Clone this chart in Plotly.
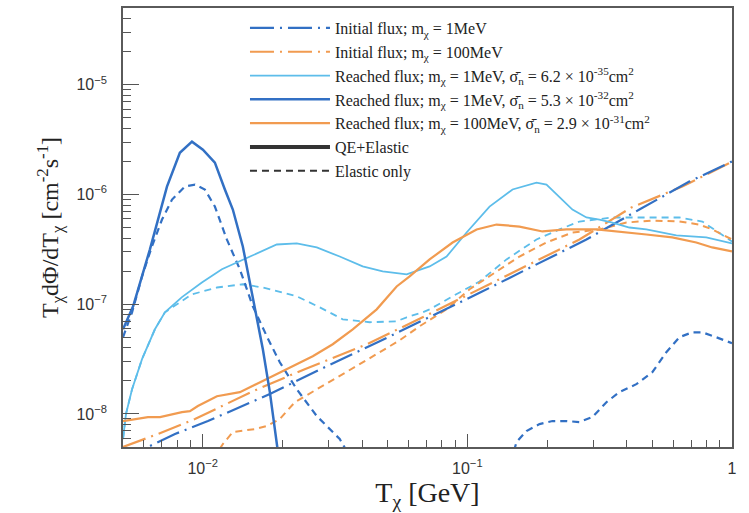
import plotly.graph_objects as go

# Kinetic energy T_chi [GeV] and flux T dPhi/dT [cm^-2 s^-1] for each curve

# Initial flux, m_chi = 1 MeV
init_1mev_T = [0.005, 0.00786, 0.01047, 0.01794, 0.02943, 0.04665, 0.1142, 0.1825, 0.2818, 0.4467, 0.6899, 1.0]
init_1mev_F = [3.9e-9, 6.57e-9, 8.62e-9, 1.52e-8, 2.72e-8, 4.60e-8, 1.31e-7, 2.30e-7, 3.89e-7, 7.29e-7, 1.31e-6, 2.0e-6]

# Initial flux, m_chi = 100 MeV
init_100mev_T = [0.005, 0.00678, 0.00935, 0.01547, 0.0243, 0.04094, 0.06778, 0.102, 0.1574, 0.2652, 0.4167, 0.6492, 0.9267, 1.0]
init_100mev_F = [5.0e-9, 6.57e-9, 8.98e-9, 1.61e-8, 2.56e-8, 4.23e-8, 7.60e-8, 1.23e-7, 2.08e-7, 3.89e-7, 7.60e-7, 1.18e-6, 1.83e-6, 1.99e-6]

# Reached flux, m_chi = 1 MeV, sigma = 6.2e-35 cm^2 (QE+Elastic)
reach_a_T = [0.005, 0.00513, 0.00541, 0.0059, 0.0066, 0.0072, 0.00835, 0.00993, 0.01182, 0.01508, 0.01905,
             0.02267, 0.02698, 0.03295, 0.04023, 0.04788, 0.05898, 0.07203, 0.08348, 0.09934, 0.1213, 0.1482,
             0.1825, 0.1991, 0.2228, 0.2495, 0.2818, 0.3155, 0.3532, 0.4095, 0.4747, 0.6161, 0.7994, 1.0]
reach_a_F = [5.91e-9, 9.98e-9, 1.68e-8, 3.16e-8, 5.91e-8, 8.44e-8, 1.16e-7, 1.58e-7, 2.08e-7, 2.72e-7, 3.50e-7,
             3.58e-7, 3.29e-7, 2.72e-7, 2.21e-7, 1.99e-7, 1.87e-7, 2.21e-7, 2.72e-7, 4.50e-7, 7.76e-7, 1.11e-6,
             1.28e-6, 1.23e-6, 9.57e-7, 7.29e-7, 6.17e-7, 5.91e-7, 5.55e-7, 5.00e-7, 4.80e-7, 4.23e-7, 4.06e-7, 3.58e-7]

# Same, elastic only
reach_a_el_T = [0.005, 0.00513, 0.00541, 0.0059, 0.0066, 0.0072, 0.00911, 0.01132, 0.01418, 0.01688, 0.02267,
                0.02769, 0.03382, 0.04276, 0.05406, 0.05898, 0.06778, 0.07203, 0.08796, 0.1112, 0.1406, 0.1825,
                0.2228, 0.2652, 0.3532, 0.4747, 0.6324, 0.7722, 1.0]
reach_a_el_F = [5.91e-9, 9.98e-9, 1.68e-8, 3.16e-8, 5.91e-8, 8.44e-8, 1.23e-7, 1.42e-7, 1.52e-7, 1.42e-7, 1.18e-7,
                9.37e-8, 7.29e-8, 6.85e-8, 6.99e-8, 7.60e-8, 8.44e-8, 8.98e-8, 1.18e-7, 1.61e-7, 2.56e-7, 3.89e-7,
                4.80e-7, 5.67e-7, 6.17e-7, 6.17e-7, 6.17e-7, 5.67e-7, 3.73e-7]

# Reached flux, m_chi = 1 MeV, sigma = 5.3e-32 cm^2 (QE+Elastic)
reach_b_T = [0.005, 0.00546, 0.00632, 0.00733, 0.0082, 0.00911, 0.01002, 0.01112, 0.01213, 0.013, 0.01418,
             0.01547, 0.01688, 0.01794, 0.01874, 0.0193]
reach_b_F = [5.91e-8, 9.57e-8, 3.16e-7, 1.18e-6, 2.40e-6, 3.03e-6, 2.56e-6, 1.95e-6, 1.11e-6, 7.29e-7, 3.36e-7,
             1.18e-7, 3.89e-8, 1.58e-8, 6.85e-9, 4.3e-9]

# Same, elastic only (drops below the axis between ~0.035 and ~0.15 GeV)
reach_b_el_T = [0.005, 0.00541, 0.0059, 0.00643, 0.00702, 0.00766, 0.00857, 0.00935, 0.01019, 0.01112, 0.01234,
                0.01382, 0.01547, 0.01747, 0.01956, 0.02267, 0.02698, 0.03295, 0.035, None,
                0.150, 0.1534, 0.1673, 0.1873, 0.2098, 0.2368, 0.2652, 0.2969, 0.3353, 0.3753, 0.4351, 0.5,
                0.5647, 0.6324, 0.7079, 0.7722, 0.872, 1.0]
reach_b_el_F = [5.0e-8, 8.44e-8, 1.79e-7, 3.36e-7, 5.91e-7, 8.98e-7, 1.18e-6, 1.23e-6, 1.11e-6, 7.76e-7, 3.89e-7,
                2.08e-7, 9.57e-8, 5.10e-8, 2.96e-8, 1.68e-8, 9.57e-9, 5.91e-9, 4.6e-9, None,
                4.6e-9, 5.55e-9, 6.99e-9, 8.09e-9, 8.62e-9, 8.62e-9, 8.44e-9, 9.37e-9, 1.28e-8, 1.58e-8, 1.87e-8, 2.40e-8,
                3.65e-8, 5.0e-8, 5.55e-8, 5.55e-8, 5.0e-8, 4.41e-8]

# Reached flux, m_chi = 100 MeV, sigma = 2.9e-31 cm^2 (QE+Elastic)
reach_c_T = [0.005, 0.00621, 0.0069, 0.00835, 0.00895, 0.00959, 0.01132, 0.01382, 0.01747, 0.0219, 0.02606,
             0.03101, 0.0369, 0.04545, 0.05406, 0.06053, 0.07203, 0.08796, 0.1084, 0.1289, 0.1574, 0.1923,
             0.2368, 0.3074, 0.3753, 0.4747, 0.595, 0.7328, 0.8421, 1.0]
reach_c_F = [8.62e-9, 9.37e-9, 9.37e-9, 1.04e-8, 1.06e-8, 1.18e-8, 1.45e-8, 1.58e-8, 2.08e-8, 2.72e-8, 3.36e-8,
             4.32e-8, 5.91e-8, 8.98e-8, 1.45e-7, 1.79e-7, 2.56e-7, 3.65e-7, 4.80e-7, 5.32e-7, 5.10e-7, 4.60e-7,
             4.80e-7, 4.80e-7, 4.60e-7, 4.32e-7, 4.06e-7, 3.65e-7, 3.29e-7, 3.03e-7]

# Same, elastic only
reach_c_el_T = [0.0116, 0.01192, 0.013, 0.0158, 0.01747, 0.01956, 0.0223, 0.02842, 0.0375, 0.04665, 0.05549,
                0.06604, 0.08348, 0.102, 0.1213, 0.1574, 0.1991, 0.2495, 0.3155, 0.399, 0.5, 0.6324, 0.7522,
                0.8421, 1.0]
reach_c_el_F = [4.8e-9, 5.32e-9, 6.85e-9, 7.29e-9, 7.76e-9, 8.98e-9, 1.28e-8, 1.79e-8, 2.67e-8, 3.65e-8, 4.69e-8,
                6.30e-8, 8.98e-8, 1.37e-7, 1.79e-7, 2.72e-7, 3.65e-7, 4.50e-7, 4.80e-7, 5.55e-7, 5.79e-7, 5.67e-7,
                5.32e-7, 4.80e-7, 3.89e-7]

LIGHT_BLUE = "#5DBDEA"
DARK_BLUE = "#3270C4"
ORANGE = "#F19B50"
DASHDOT = "24px,6px,2px,6px"
DASH = "7px,5px"

SERIF = "Liberation Serif"
SANS = "Liberation Sans"

fig = go.Figure()


def add(x, y, color, width, dash, name=None, rank=None):
    fig.add_trace(go.Scatter(
        x=x, y=y, mode="lines", name=name,
        line=dict(color=color, width=width, dash=dash),
        showlegend=name is not None,
        legendrank=rank if rank is not None else 1000,
        hoverinfo="skip",
    ))


add(reach_a_el_T, reach_a_el_F, LIGHT_BLUE, 1.8, DASH)
add(reach_c_el_T, reach_c_el_F, ORANGE, 2.0, DASH)
add(reach_b_el_T, reach_b_el_F, DARK_BLUE, 2.2, DASH)
add(init_100mev_T, init_100mev_F, ORANGE, 2.2, DASHDOT,
    "Initial flux; m<sub>χ</sub> = 100MeV", 2)
add(init_1mev_T, init_1mev_F, DARK_BLUE, 2.2, DASHDOT,
    "Initial flux; m<sub>χ</sub> = 1MeV", 1)
add(reach_a_T, reach_a_F, LIGHT_BLUE, 1.8, "solid",
    "Reached flux; m<sub>χ</sub> = 1MeV, σ̄<sub>n</sub> = 6.2 × 10<sup>-35</sup>cm<sup>2</sup>", 3)
add(reach_c_T, reach_c_F, ORANGE, 2.2, "solid",
    "Reached flux; m<sub>χ</sub> = 100MeV, σ̄<sub>n</sub> = 2.9 × 10<sup>-31</sup>cm<sup>2</sup>", 5)
add(reach_b_T, reach_b_F, DARK_BLUE, 2.5, "solid",
    "Reached flux; m<sub>χ</sub> = 1MeV, σ̄<sub>n</sub> = 5.3 × 10<sup>-32</sup>cm<sup>2</sup>", 4)
# style keys for the legend
add([None], [None], "#333333", 4, "solid", "QE+Elastic", 6)
add([None], [None], "#333333", 2, DASH, "Elastic only", 7)

x_major = [0.01, 0.1, 1]
x_labels = ["10<sup>−2</sup>", "10<sup>−1</sup>", "1"]
y_major = [1e-8, 1e-7, 1e-6, 1e-5]
y_labels = ["10<sup>−8</sup>", "10<sup>−7</sup>", "10<sup>−6</sup>", "10<sup>−5</sup>"]

x_minor = [m * 10.0 ** e for e in (-3, -2, -1) for m in range(2, 10) if 0.005 <= m * 10.0 ** e <= 1]
y_minor = [m * 10.0 ** e for e in (-9, -8, -7, -6, -5) for m in range(2, 10) if 5e-9 <= m * 10.0 ** e <= 5e-5]

axis_common = dict(
    type="log", showgrid=False, zeroline=False,
    showline=True, linecolor="#5a5a5a", linewidth=1.6, mirror=True,
    ticks="inside", tickcolor="#555555", tickwidth=1.2,
    tickfont=dict(family=SANS, size=16, color="#333333"),
)

fig.update_xaxes(
    **axis_common,
    range=[-2.30103, 0],
    tickmode="array", tickvals=x_major, ticktext=x_labels, ticklen=13,
    ticklabelstandoff=6,
    minor=dict(tickmode="array", tickvals=x_minor, ticks="inside", ticklen=7,
               tickcolor="#555555", tickwidth=1.0, showgrid=False),
    title=dict(text="T<sub>χ</sub> [GeV]", font=dict(family=SERIF, size=28, color="#222222"), standoff=3),
)
fig.update_yaxes(
    **axis_common,
    range=[-8.30103, -4.30103],
    tickmode="array", tickvals=y_major, ticktext=y_labels, ticklen=16,
    ticklabelstandoff=11,
    minor=dict(tickmode="array", tickvals=y_minor, ticks="inside", ticklen=8,
               tickcolor="#555555", tickwidth=1.0, showgrid=False),
    title=dict(text="T<sub>χ</sub>dΦ/dT<sub>χ</sub> [cm<sup>-2</sup>s<sup>-1</sup>]",
               font=dict(family=SERIF, size=24, color="#222222"), standoff=11),
)

fig.update_layout(
    width=749, height=513,
    margin=dict(l=123, r=17, t=8, b=66, autoexpand=False),
    paper_bgcolor="white", plot_bgcolor="white",
    showlegend=True,
    legend=dict(
        x=0.2003, xanchor="left", y=0.993, yanchor="top",
        bgcolor="rgba(255,255,255,0)", borderwidth=0,
        font=dict(family=SERIF, size=16, color="#222222"),
        itemwidth=80,
        traceorder="normal",
    ),
)

fig.write_html("out.html")
